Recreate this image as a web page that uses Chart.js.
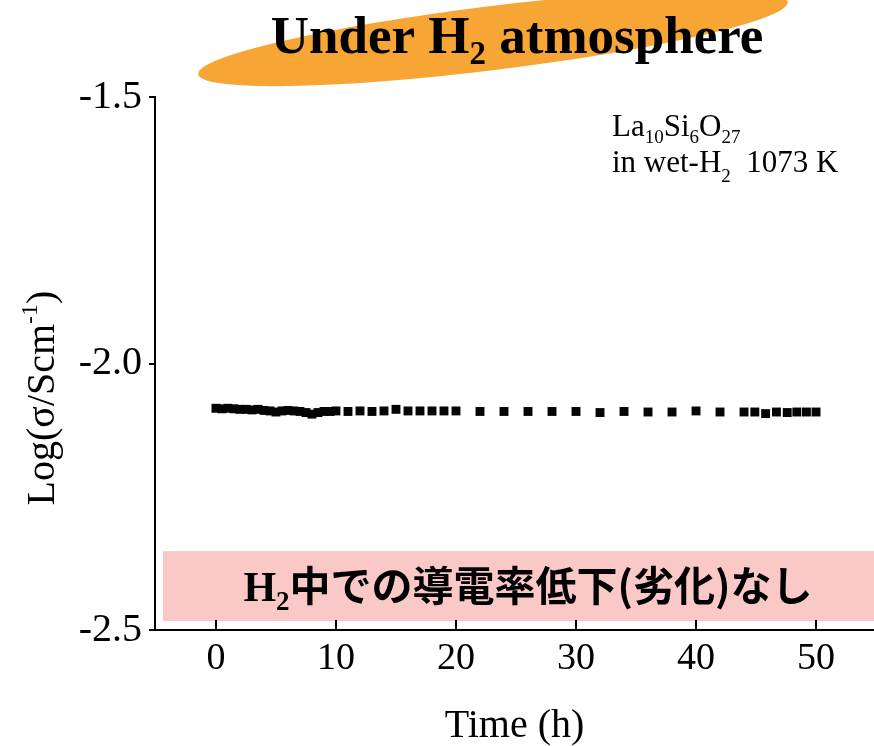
<!DOCTYPE html>
<html><head><meta charset="utf-8">
<script src="https://cdn.jsdelivr.net/npm/chart.js@4"></script>
<style>html,body{margin:0;padding:0;background:#fff;}canvas{display:block}</style>
</head><body>
<div style="width:874px;height:746px;"><canvas id="c" width="874" height="746"></canvas></div>
<script>
// ---- data ----
const TIME_H = [0,0.5,1,1.5,2,2.5,3,3.5,4,4.5,5,5.5,6,6.5,7,7.5,8,8.5,9,9.5,10,
  11,12,13,14,15,16,17,18,19,20,
  22,24,26,28,30,32,34,36,38,40,42,
  44,44.9,45.8,46.7,47.6,48.4,49.2,50];
const LOG_SIGMA = [-2.084,-2.085,-2.084,-2.085,-2.086,-2.086,-2.087,-2.086,-2.088,-2.089,-2.091,-2.089,-2.088,-2.089,-2.090,-2.092,-2.095,-2.092,-2.090,-2.090,-2.089,
  -2.090,-2.089,-2.090,-2.089,-2.086,-2.089,-2.089,-2.089,-2.089,-2.089,
  -2.090,-2.090,-2.090,-2.090,-2.090,-2.092,-2.090,-2.091,-2.091,-2.089,-2.091,
  -2.091,-2.091,-2.094,-2.091,-2.092,-2.091,-2.091,-2.091];
const X_TICKS = [0,10,20,30,40,50];
const Y_TICKS = [-2.5,-2.0,-1.5];
const Y_TICK_LABELS = ['-2.5','-2.0','-1.5'];
const X_TITLE = 'Time (h)';
const Y_TITLE_MAIN = 'Log(σ/Scm';
const Y_TITLE_SUP = '-1';
const Y_TITLE_END = ')';
const NOTE_TEXT = '中での導電率低下(劣化)なし';

const SERIF = '"Liberation Serif", "Times New Roman", serif';

function drawRuns(ctx, runs, x, y, align) {
  // runs: [text, fontSize, baselineShift, bold, family]
  let total = 0;
  runs.forEach(r => { ctx.font = (r[3] ? 'bold ' : '') + r[1] + 'px ' + (r[4] || SERIF); r.w = ctx.measureText(r[0]).width; total += r.w; });
  let cx = align === 'center' ? x - total / 2 : x;
  ctx.textAlign = 'left'; ctx.textBaseline = 'alphabetic';
  runs.forEach(r => { ctx.font = (r[3] ? 'bold ' : '') + r[1] + 'px ' + (r[4] || SERIF); ctx.fillText(r[0], cx, y + r[2]); cx += r.w; });
}

const decorPlugin = {
  id: 'decor',
  beforeDraw(chart) {
    const ctx = chart.ctx;
    ctx.save();
    ctx.fillStyle = '#fff';
    ctx.fillRect(0, 0, chart.width, chart.height);
    // orange ellipse behind title
    ctx.fillStyle = '#F7A535';
    ctx.beginPath();
    ctx.ellipse(493, 38, 297, 32, -7 * Math.PI / 180, 0, Math.PI * 2);
    ctx.fill();
    // title
    ctx.fillStyle = '#000';
    drawRuns(ctx, [['Under H', 53, 0, true], ['2', 33, 11, true], [' atmosphere', 53, 0, true]], 517, 53, 'center');
    ctx.restore();
  },
  beforeDatasetsDraw(chart) {
    const ctx = chart.ctx, xs = chart.scales.x, ys = chart.scales.y;
    ctx.save();
    const x0 = xs.getPixelForValue(-4.42), y0 = ys.getPixelForValue(-2.352), y1 = ys.getPixelForValue(-2.483);
    ctx.fillStyle = '#FBC8C8';
    ctx.fillRect(x0, y0, chart.width - x0, y1 - y0);
    ctx.fillStyle = '#000';
    const cy = (y0 + y1) / 2;
    drawRuns(ctx, [['H', 42, 0, true], ['2', 27, 9, true], [NOTE_TEXT, 41, 0, true, '"Noto Sans CJK JP", sans-serif']], 528, cy + 15, 'center');
    // composition note
    drawRuns(ctx, [['La', 31, 0], ['10', 19, 7], ['Si', 31, 0], ['6', 19, 7], ['O', 31, 0], ['27', 19, 7]], 612, 136, 'left');
    drawRuns(ctx, [['in wet-H', 31, 0], ['2', 19, 10], ['  1073 K', 31, 0]], 612, 172, 'left');
    ctx.restore();
  },
  afterDraw(chart) {
    const ctx = chart.ctx, xs = chart.scales.x, ys = chart.scales.y, a = chart.chartArea;
    ctx.save();
    ctx.strokeStyle = '#000'; ctx.lineWidth = 2;
    ctx.beginPath();
    X_TICKS.forEach(v => { const px = Math.round(xs.getPixelForValue(v)); ctx.moveTo(px, a.bottom); ctx.lineTo(px, a.bottom - 10); });
    Y_TICKS.forEach(v => { const py = Math.round(ys.getPixelForValue(v)); ctx.moveTo(a.left, py); ctx.lineTo(a.left - 6, py); });
    ctx.moveTo(a.left - 5, a.bottom); ctx.lineTo(a.left, a.bottom);
    ctx.stroke();
    // y axis title (rotated, with superscript)
    ctx.translate(40, 398);
    ctx.rotate(-Math.PI / 2);
    ctx.fillStyle = '#000';
    drawRuns(ctx, [[Y_TITLE_MAIN, 40, 0], [Y_TITLE_SUP, 24, -17], [Y_TITLE_END, 40, 0]], 0, 14, 'center');
    ctx.restore();
  }
};

new Chart(document.getElementById('c'), {
  type: 'scatter',
  data: {
    datasets: [{
      data: TIME_H.map((t, i) => ({ x: t, y: LOG_SIGMA[i] })),
      pointStyle: 'rect',
      pointRadius: 6.3,
      pointBorderWidth: 0,
      backgroundColor: '#050505',
      borderColor: '#050505',
      showLine: false
    }]
  },
  options: {
    responsive: false,
    animation: false,
    devicePixelRatio: 1,
    layout: { autoPadding: false, padding: { top: 97, right: 0, left: 0, bottom: 0 } },
    plugins: { legend: { display: false }, tooltip: { enabled: false }, title: { display: false } },
    scales: {
      x: {
        type: 'linear', min: -5.08, max: 54.83,
        afterBuildTicks(s) { s.ticks = X_TICKS.map(v => ({ value: v })); },
        afterFit(s) { s.height = 116; },
        grid: { display: false, drawTicks: false },
        border: { display: true, color: '#000', width: 2 },
        ticks: { color: '#000', padding: 6, font: { family: SERIF, size: 38 }, maxRotation: 0, autoSkip: false },
        title: { display: true, text: X_TITLE, color: '#000', font: { family: SERIF, size: 40, lineHeight: 1 }, padding: { top: 0, bottom: 0 } }
      },
      y: {
        type: 'linear', min: -2.5, max: -1.5,
        afterBuildTicks(s) { s.ticks = Y_TICKS.map(v => ({ value: v })); },
        afterFit(s) { s.width = 155; },
        grid: { display: false, drawTicks: false },
        border: { display: true, color: '#000', width: 2 },
        ticks: { color: '#000', padding: 13, font: { family: SERIF, size: 40 }, autoSkip: false,
          callback(v) { const i = Y_TICKS.findIndex(t => Math.abs(t - v) < 1e-9); return i >= 0 ? Y_TICK_LABELS[i] : ''; } },
        title: { display: false }
      }
    }
  },
  plugins: [decorPlugin]
});
</script>
</body></html>
